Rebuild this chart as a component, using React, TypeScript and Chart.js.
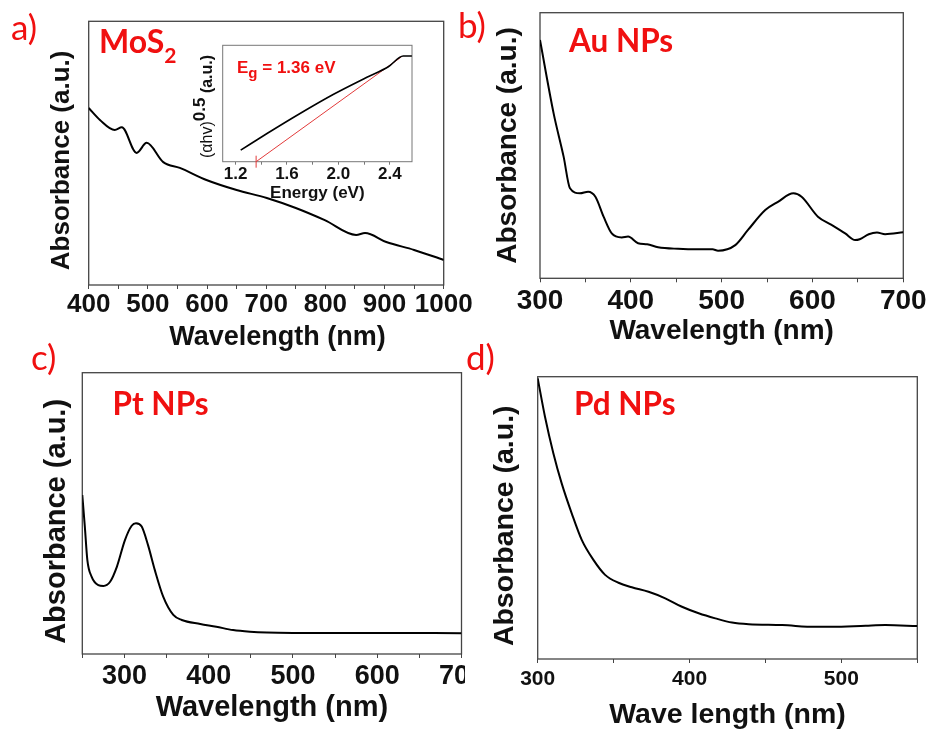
import React, { useEffect, useRef } from "react";
import { Chart, registerables } from "chart.js";
Chart.register(...registerables);

// ---------- Data ----------
// a) MoS2
const mos2Wavelength = [400, 419, 444, 456, 481, 498, 526, 554, 599, 650, 701, 750, 799, 852, 867, 903, 950, 1000];
const mos2Absorbance = [0.671, 0.626, 0.588, 0.598, 0.501, 0.539, 0.466, 0.444, 0.398, 0.36, 0.33, 0.292, 0.246, 0.19, 0.197, 0.163, 0.133, 0.095];
// a) inset Tauc plot
const taucEnergy = [1.24, 1.448, 1.705, 1.963, 2.222, 2.389, 2.505, 2.572];
const taucValue = [0.1, 0.244, 0.416, 0.579, 0.725, 0.816, 0.908, 0.908];
const fitEnergy = [1.36, 2.49];
const fitValue = [0, 0.9];
// b) Au NPs
const auWavelength = [300, 315, 326, 333, 344, 353, 361, 370, 379, 390, 397, 408, 418, 430, 452, 474, 490, 496, 515, 529, 548, 562, 579, 588, 606, 621, 636, 647, 652, 662, 671, 680, 700];
const auAbsorbance = [0.897, 0.621, 0.458, 0.339, 0.32, 0.326, 0.307, 0.232, 0.169, 0.154, 0.157, 0.132, 0.128, 0.117, 0.111, 0.109, 0.109, 0.104, 0.125, 0.182, 0.257, 0.288, 0.32, 0.307, 0.232, 0.201, 0.169, 0.144, 0.147, 0.166, 0.172, 0.166, 0.173];
// c) Pt NPs
const ptWavelength = [250, 253, 256, 261, 269, 275, 283, 291, 300.6, 308.6, 313.7, 320.5, 328, 336, 346, 358, 368, 390, 409, 429, 449, 469, 500, 600, 700];
const ptAbsorbance = [0.565, 0.453, 0.334, 0.275, 0.245, 0.242, 0.257, 0.31, 0.405, 0.456, 0.465, 0.453, 0.387, 0.299, 0.204, 0.139, 0.121, 0.107, 0.097, 0.085, 0.079, 0.076, 0.075, 0.075, 0.074];
// d) Pd NPs
const pdWavelength = [300, 304.8, 310.3, 315.8, 322.4, 329, 336.7, 344.4, 353.2, 362, 373, 384, 395, 406, 417, 428, 439, 461, 483, 494, 516, 529, 550];
const pdAbsorbance = [0.994, 0.858, 0.729, 0.622, 0.516, 0.422, 0.351, 0.298, 0.27, 0.254, 0.238, 0.215, 0.185, 0.162, 0.144, 0.129, 0.123, 0.12, 0.114, 0.114, 0.118, 0.12, 0.117];

// tick label texts
const mainTickLabels = (v: number) => (Math.round(v) % 100 === 0 ? String(Math.round(v)) : "");
const insetTickLabels = (v: number) => (Math.round(v * 10) % 4 === 0 ? v.toFixed(1) : "");

const RED = "#f01010";
const SANS = "'Liberation Sans', Arial, sans-serif";
const LABEL = "Lato, 'Open Sans', sans-serif";

type Run = { t: string; font: string; dy?: number };
type TextItem = { x: number; y: number; runs: Run[]; color: string; rotate?: boolean };

const pts = (xs: number[], ys: number[]) => xs.map((x, i) => ({ x, y: ys[i] }));

function curve(xs: number[], ys: number[], width = 2) {
  return {
    data: pts(xs, ys),
    borderColor: "#000",
    borderWidth: width,
    pointRadius: 0,
    fill: false,
    cubicInterpolationMode: "monotone",
  };
}

interface Spec {
  box: { left: number; top: number; width: number; height: number };
  area: { l: number; t: number; r: number; b: number };
  xMin: number; xMax: number; xStep: number;
  labels: (v: number) => string;
  tickSize: number; tickLen: number; tickCenterY: number;
  xTitle: string; xTitleSize: number; xTitleY: number;
  yTitle?: string; yTitleSize?: number; yTitleX?: number;
  datasets: any[];
  texts: TextItem[];
  frameColor: string; frameWidth: number;
}

function buildConfig(s: Spec): any {
  const { box, area } = s;
  const yWidth = area.l - box.left;
  const xHeight = box.top + box.height - area.b;
  const tickPad = s.tickCenterY - area.b - s.tickLen - 0.6 * s.tickSize;
  const xTitlePad = box.top + box.height - s.xTitleY - 0.5 * s.xTitleSize;
  const yTitlePad = s.yTitle ? (s.yTitleX as number) - box.left - 0.5 * (s.yTitleSize as number) : 0;
  const framePlugin = {
    id: "frame",
    beforeDatasetsDraw(chart: any) {
      const { ctx, chartArea: a } = chart;
      ctx.save();
      ctx.strokeStyle = s.frameColor;
      ctx.lineWidth = s.frameWidth;
      ctx.strokeRect(a.left, a.top, a.right - a.left, a.bottom - a.top);
      ctx.restore();
    },
  };
  const textPlugin = {
    id: "texts",
    afterDraw(chart: any) {
      const ctx = chart.ctx;
      for (const it of s.texts) {
        ctx.save();
        ctx.translate(it.x - box.left, it.y - box.top);
        if (it.rotate) ctx.rotate(-Math.PI / 2);
        ctx.fillStyle = it.color;
        ctx.textBaseline = "alphabetic";
        ctx.textAlign = "left";
        let x = 0;
        for (const r of it.runs) {
          ctx.font = r.font;
          ctx.fillText(r.t, x, r.dy || 0);
          x += ctx.measureText(r.t).width;
        }
        ctx.restore();
      }
    },
  };
  return {
    type: "line",
    data: { datasets: s.datasets },
    options: {
      responsive: false,
      animation: false,
      events: [],
      layout: { padding: { left: 0, bottom: 0, top: area.t - box.top, right: box.left + box.width - area.r } },
      plugins: { legend: { display: false }, tooltip: { enabled: false } },
      scales: {
        x: {
          type: "linear",
          position: "bottom",
          min: s.xMin,
          max: s.xMax,
          afterFit: (sc: any) => {
            sc.height = xHeight;
            sc.paddingLeft = 0;
            sc.paddingRight = 0;
          },
          ticks: {
            stepSize: s.xStep,
            autoSkip: false,
            maxRotation: 0,
            minRotation: 0,
            includeBounds: false,
            padding: tickPad,
            color: "#111",
            font: { family: SANS, weight: "bold", size: s.tickSize },
            callback: (v: any) => s.labels(Number(v)),
          },
          grid: { display: true, drawOnChartArea: false, drawTicks: true, tickLength: s.tickLen, color: s.frameColor, lineWidth: 1 },
          border: { display: false },
          title: {
            display: true,
            text: s.xTitle,
            color: "#111",
            font: { family: SANS, weight: "bold", size: s.xTitleSize, lineHeight: 1 },
            padding: { top: 0, bottom: xTitlePad },
          },
        },
        y: {
          type: "linear",
          min: 0,
          max: 1,
          afterFit: (sc: any) => {
            sc.width = yWidth;
            sc.paddingTop = 0;
            sc.paddingBottom = 0;
          },
          ticks: { display: false },
          grid: { display: false },
          border: { display: false },
          title: {
            display: !!s.yTitle,
            text: s.yTitle || "",
            color: "#111",
            font: { family: SANS, weight: "bold", size: s.yTitleSize || 12, lineHeight: 1 },
            padding: { top: yTitlePad, bottom: 0 },
          },
        },
      },
    },
    plugins: [framePlugin, textPlugin],
  };
}

function Panel({ spec }: { spec: Spec }) {
  const ref = useRef<HTMLCanvasElement>(null);
  useEffect(() => {
    const chart = new Chart(ref.current as HTMLCanvasElement, buildConfig(spec));
    return () => chart.destroy();
  }, []);
  const { left, top, width, height } = spec.box;
  return (
    <canvas
      ref={ref}
      width={width}
      height={height}
      style={{ position: "absolute", left, top, width, height }}
    />
  );
}

const panelA: Spec = {
  box: { left: 0, top: 0, width: 480, height: 360 },
  area: { l: 88.7, t: 21.3, r: 443.7, b: 285 },
  xMin: 400, xMax: 1000, xStep: 50, labels: mainTickLabels,
  tickSize: 26, tickLen: 4, tickCenterY: 305,
  xTitle: "   Wavelength (nm)", xTitleSize: 27, xTitleY: 338,
  yTitle: "Absorbance (a.u.)  ", yTitleSize: 26, yTitleX: 61.7,
  datasets: [curve(mos2Wavelength, mos2Absorbance)],
  texts: [
    { x: 11, y: 40, color: RED, runs: [{ t: "a)", font: `35px ${LABEL}` }] },
    { x: 99, y: 53.3, color: RED, runs: [{ t: "MoS", font: `bold 32px ${LABEL}` }, { t: "2", font: `bold 21px ${LABEL}`, dy: 10 }] },
  ],
  frameColor: "#444", frameWidth: 1.3,
};

const panelInset: Spec = {
  box: { left: 170, top: 35, width: 250, height: 170 },
  area: { l: 222.7, t: 45.3, r: 412, b: 161.7 },
  xMin: 1.1, xMax: 2.573, xStep: 0.2, labels: insetTickLabels,
  tickSize: 17, tickLen: 3, tickCenterY: 174,
  xTitle: "Energy (eV)", xTitleSize: 17, xTitleY: 193.3,
  datasets: [
    curve(taucEnergy, taucValue, 1.6),
    {
      data: pts(fitEnergy, fitValue),
      borderColor: "#e23a3a",
      borderWidth: 1,
      pointRadius: [6, 0],
      pointStyle: "line",
      rotation: 90,
      pointBorderColor: "#e23a3a",
      pointBorderWidth: 1,
      clip: false,
      fill: false,
    },
  ],
  texts: [
    {
      x: 237, y: 72.7, color: RED,
      runs: [
        { t: "E", font: `bold 17px ${SANS}` },
        { t: "g", font: `bold 15px ${SANS}`, dy: 5 },
        { t: " = 1.36 eV", font: `bold 17px ${SANS}` },
      ],
    },
    {
      x: 212, y: 158, color: "#111", rotate: true,
      runs: [
        { t: "(\u03b1hv)", font: `16px ${SANS}` },
        { t: "0.5", font: `bold 17px ${SANS}`, dy: -7 },
        { t: " (a.u.)", font: `bold 16px ${SANS}` },
      ],
    },
  ],
  frameColor: "#777", frameWidth: 1,
};

const panelB: Spec = {
  box: { left: 445, top: 0, width: 485, height: 360 },
  area: { l: 540, t: 12.7, r: 903.3, b: 278.3 },
  xMin: 300, xMax: 700, xStep: 50, labels: mainTickLabels,
  tickSize: 28, tickLen: 4, tickCenterY: 301.7,
  xTitle: "Wavelength (nm)", xTitleSize: 28, xTitleY: 331.7,
  yTitle: "Absorbance (a.u.)", yTitleSize: 28, yTitleX: 508,
  datasets: [curve(auWavelength, auAbsorbance)],
  texts: [
    { x: 458, y: 38.3, color: RED, runs: [{ t: "b)", font: `35px ${LABEL}` }] },
    { x: 569, y: 51.7, color: RED, runs: [{ t: "Au NPs", font: `bold 31.5px ${LABEL}` }] },
  ],
  frameColor: "#444", frameWidth: 1.3,
};

const panelC: Spec = {
  box: { left: 0, top: 335, width: 465, height: 396 },
  area: { l: 82.3, t: 372.7, r: 461.5, b: 654 },
  xMin: 250, xMax: 700, xStep: 50, labels: mainTickLabels,
  tickSize: 27, tickLen: 4, tickCenterY: 676.7,
  xTitle: "Wavelength (nm)", xTitleSize: 29, xTitleY: 708.3,
  yTitle: "Absorbance (a.u.)  ", yTitleSize: 29, yTitleX: 57,
  datasets: [curve(ptWavelength, ptAbsorbance)],
  texts: [
    { x: 31, y: 370, color: RED, runs: [{ t: "c)", font: `35px ${LABEL}` }] },
    { x: 112.5, y: 415, color: RED, runs: [{ t: "Pt NPs", font: `bold 31.5px ${LABEL}` }] },
  ],
  frameColor: "#444", frameWidth: 1.3,
};

const panelD: Spec = {
  box: { left: 465, top: 335, width: 465, height: 396 },
  area: { l: 537.7, t: 376.7, r: 917.3, b: 659 },
  xMin: 300, xMax: 550, xStep: 50, labels: mainTickLabels,
  tickSize: 21, tickLen: 4, tickCenterY: 679.3,
  xTitle: "Wave length (nm)", xTitleSize: 28.5, xTitleY: 715,
  yTitle: "Absorbance (a.u.)  ", yTitleSize: 28.5, yTitleX: 505,
  datasets: [curve(pdWavelength, pdAbsorbance)],
  texts: [
    { x: 466, y: 370, color: RED, runs: [{ t: "d)", font: `35px ${LABEL}` }] },
    { x: 574, y: 415, color: RED, runs: [{ t: "Pd NPs", font: `bold 31.5px ${LABEL}` }] },
  ],
  frameColor: "#444", frameWidth: 1.3,
};

export default function App() {
  return (
    <div style={{ position: "absolute", left: 0, top: 0, width: 930, height: 731, background: "#fff", overflow: "hidden" }}>
      <Panel spec={panelA} />
      <Panel spec={panelInset} />
      <Panel spec={panelC} />
      <Panel spec={panelB} />
      <Panel spec={panelD} />
    </div>
  );
}
